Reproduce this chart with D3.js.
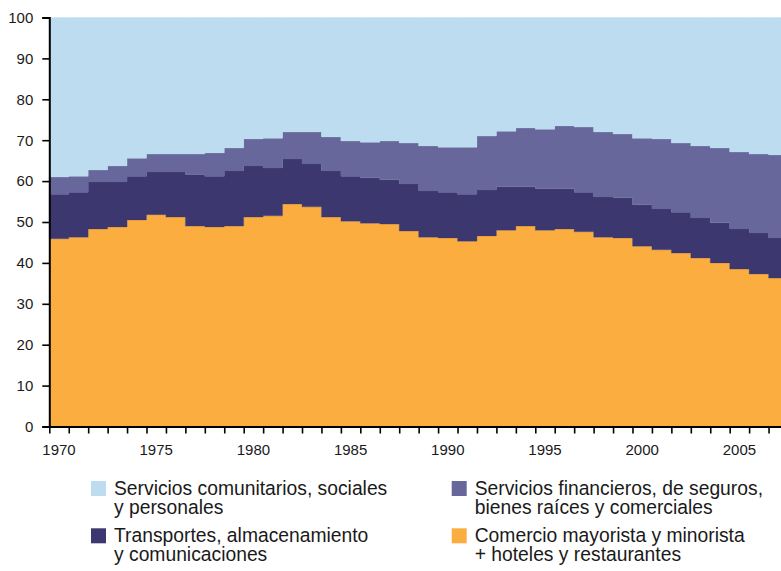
<!DOCTYPE html>
<html><head><meta charset="utf-8">
<script src="https://cdn.jsdelivr.net/npm/d3@7"></script>
<style>
body{margin:0;background:#fff}
svg{display:block}
text{font-family:"Liberation Sans",Arial,Helvetica,sans-serif;fill:#1a1a1a}
</style>
</head><body>
<svg id="chart" width="781" height="571"></svg>
<script>
// ---- data ----
const years = [1970,1971,1972,1973,1974,1975,1976,1977,1978,1979,
               1980,1981,1982,1983,1984,1985,1986,1987,1988,1989,
               1990,1991,1992,1993,1994,1995,1996,1997,1998,1999,
               2000,2001,2002,2003,2004,2005,2006,2007];
const comercio = [45.9,46.3,48.3,48.8,50.5,51.8,51.2,49.0,48.8,49.0,
                  51.2,51.5,54.4,53.7,51.2,50.2,49.7,49.5,47.8,46.3,
                  46.1,45.3,46.6,48.0,49.0,48.0,48.3,47.6,46.3,46.1,
                  44.1,43.2,42.4,41.2,40.0,38.5,37.3,36.3];
const transporte = [10.9,11.0,11.5,11.0,10.7,10.4,11.0,12.6,12.4,13.5,
                    12.5,11.7,11.0,10.5,11.3,11.0,11.1,10.8,11.5,11.3,
                    11.2,11.5,11.2,10.6,9.6,10.1,9.8,9.7,9.8,9.8,
                    10.1,10.0,10.0,9.8,9.8,9.8,10.0,9.8];
const financiero = [4.2,3.9,2.9,3.9,4.4,4.4,4.4,5.0,5.7,5.6,
                    6.6,7.3,6.6,7.8,8.3,8.6,8.7,9.5,10.0,11.0,
                    11.0,11.5,13.2,13.6,14.4,14.6,15.4,15.9,15.9,15.6,
                    16.3,17.1,16.9,17.6,18.3,18.8,19.3,20.3];
const comunitarios = [39.0,38.8,37.3,36.3,34.4,33.4,33.4,33.4,33.1,31.9,
                      29.7,29.5,28.0,28.0,29.2,30.2,30.5,30.2,30.7,31.4,
                      31.7,31.7,29.0,27.8,27.0,27.3,26.5,26.8,28.0,28.5,
                      29.5,29.7,30.7,31.4,31.9,32.9,33.4,33.6];
const yTickValues = [0,10,20,30,40,50,60,70,80,90,100];
const xLabelYears = [1970,1975,1980,1985,1990,1995,2000,2005];
const seriesKeys = ["comercio","transporte","financiero","comunitarios"];
const seriesColors = {comercio:"#fbae3f",transporte:"#3c376e",financiero:"#67679c",comunitarios:"#bddcef"};
const legendItems = [
  {key:"comunitarios", lines:["Servicios comunitarios, sociales","y personales"]},
  {key:"transporte", lines:["Transportes, almacenamiento","y comunicaciones"]},
  {key:"financiero", lines:["Servicios financieros, de seguros,","bienes raíces y comerciales"]},
  {key:"comercio", lines:["Comercio mayorista y minorista","+ hoteles y restaurantes"]}
];

// ---- build table ----
const rows = years.map((yr,i)=>({year:yr, comercio:comercio[i], transporte:transporte[i], financiero:financiero[i], comunitarios:comunitarios[i]}));
// closing point so the last year's step has width
const rowsStep = rows.concat([Object.assign({}, rows[rows.length-1], {year: years[years.length-1]+1})]);

const svg = d3.select("#chart");
const x = d3.scaleLinear().domain([1970, 2008]).range([49.3, 788.0]);
const y = d3.scaleLinear().domain([0, 100]).range([426.5, 17.5]);

const stacked = d3.stack().keys(seriesKeys)(rowsStep);
const area = d3.area()
  .curve(d3.curveStepAfter)
  .x(d=>x(d.data.year))
  .y0(d=>y(d[0]))
  .y1(d=>y(d[1]));

svg.append("g").selectAll("path").data(stacked).join("path")
  .attr("d", area)
  .attr("fill", d=>seriesColors[d.key])
  .attr("stroke", d=>seriesColors[d.key])
  .attr("stroke-width", 0.3);

// ---- axes ----
const yAxis = d3.axisLeft(y).tickValues(yTickValues).tickSize(7).tickPadding(9).tickFormat(d3.format("d"));
const gy = svg.append("g").attr("transform","translate(49.3,0)").call(yAxis);
gy.select(".domain").attr("stroke","#000").attr("stroke-width",2);
gy.selectAll(".tick line").attr("stroke","#000").attr("stroke-width",1.6);
gy.selectAll(".tick text").attr("font-size",15).attr("fill","#1a1a1a")
  .attr("font-family","'Liberation Sans',Arial,sans-serif");

const xAxis = d3.axisBottom(x).tickValues(years).tickSize(7).tickFormat("").tickSizeOuter(0);
const gx = svg.append("g").attr("transform","translate(0,426.5)").call(xAxis);
gx.select(".domain").attr("stroke","#000").attr("stroke-width",2);
gx.selectAll(".tick line").attr("stroke","#000").attr("stroke-width",1.6);

svg.append("g").selectAll("text").data(xLabelYears).join("text")
  .attr("x", d=>x(d+0.5))
  .attr("y", 455)
  .attr("text-anchor","middle")
  .attr("font-size",15)
  .text(d=>d);

// ---- legend ----
const legendPos = [
  {x:91, y:481},
  {x:91, y:528.3},
  {x:451.7, y:481},
  {x:451.7, y:528.3}
];
const lg = svg.append("g").selectAll("g").data(legendItems).join("g")
  .attr("transform",(d,i)=>`translate(${legendPos[i].x},${legendPos[i].y})`);
lg.append("rect").attr("width",15).attr("height",15).attr("fill",d=>seriesColors[d.key]);
lg.append("text").attr("font-size",19.3).each(function(d){
  const t = d3.select(this);
  d.lines.forEach((ln,j)=>{
    t.append("tspan").attr("x",23).attr("y",14+j*19).text(ln);
  });
});
</script>
</body></html>
